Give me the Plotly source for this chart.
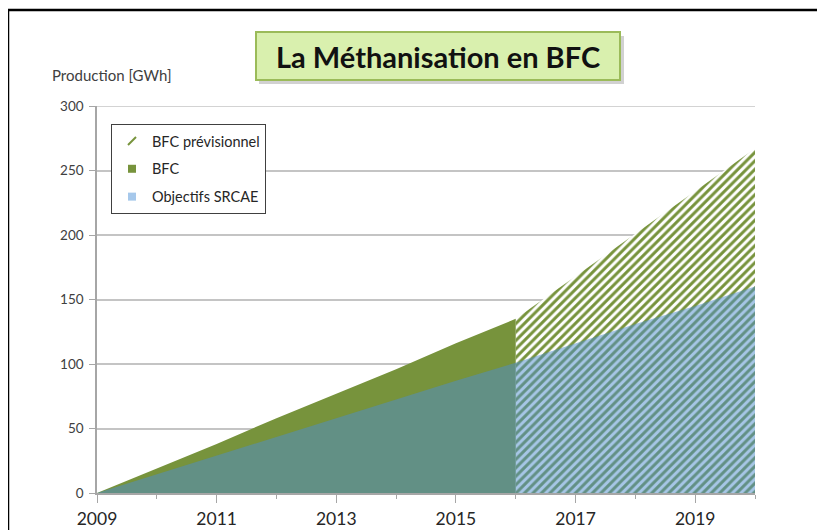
import plotly.graph_objects as go

# données (GWh)
annees_bfc = [2009, 2010, 2011, 2012, 2013, 2014, 2015, 2016]
bfc = [0, 19, 38, 58, 77, 96, 116, 135]

annees_prev = [2016, 2017, 2018, 2019, 2020]
bfc_prev = [135, 168, 201, 234, 267]

annees_srcae = [2009, 2010, 2011, 2012, 2013, 2014, 2015, 2016, 2017, 2018, 2019, 2020]
srcae = [0, 14.5, 29, 44, 58, 73, 87, 101, 116, 131, 145, 160]

vert = '#77933C'
bleu = 'rgba(77,141,205,0.5)'
police = 'Lato, Open Sans, sans-serif'

# la page html décale tout de 8 px (marge du body)
D = 8
W, H = 825 - D, 530 - D
# zone de tracé en pixels (coordonnées de l'image de référence)
L, R, T, B = 97, 755, 106, 493


def px(x):
    return (x - L) / (R - L)


def py(y):
    return (B - y) / (B - T)


fig = go.Figure()

fig.add_trace(go.Scatter(
    x=annees_prev, y=bfc_prev, name='BFC prévisionnel',
    mode='lines', line=dict(width=0, color=vert),
    fill='tozeroy', fillcolor='white',
    fillpattern=dict(shape='/', size=6, solidity=0.5, fgopacity=1,
                     fgcolor=vert, bgcolor='white'),
    showlegend=False
))

fig.add_trace(go.Scatter(
    x=annees_bfc, y=bfc, name='BFC',
    mode='lines', line=dict(width=0, color=vert),
    fill='tozeroy', fillcolor=vert,
    showlegend=False
))

fig.add_trace(go.Scatter(
    x=annees_srcae, y=srcae, name='Objectifs SRCAE',
    mode='lines', line=dict(width=0, color=bleu),
    fill='tozeroy', fillcolor=bleu,
    showlegend=False
))

# entrées de légende (petits carrés comme dans Excel)
legende = [
    ('BFC prévisionnel', 'line-ne', vert),
    ('BFC', 'square', vert),
    ('Objectifs SRCAE', 'square', '#A6C8EB'),
]
for i, (nom, symbole, couleur) in enumerate(legende):
    fig.add_trace(go.Scatter(
        x=[None], y=[None], name=nom, mode='markers',
        marker=dict(symbol=symbole, size=8, color=couleur,
                    line=dict(color=couleur, width=2 if symbole == 'line-ne' else 0)),
        legendgroup=str(i), showlegend=True
    ))

fig.update_xaxes(
    range=[2009, 2020], tick0=2009, dtick=2,
    showgrid=False, showline=True, linecolor='#A6A6A6', linewidth=1.5,
    ticks='outside', ticklen=8, tickcolor='#A6A6A6',
    minor=dict(dtick=1, ticks='outside', ticklen=4, tickcolor='#A6A6A6'),
    tickfont=dict(family=police, size=17.5, color='#262626'),
    ticklabelstandoff=1,
    zeroline=False, automargin=False
)

fig.update_yaxes(
    range=[0, 300], tickvals=[0, 50, 100, 150, 200, 250, 300],
    showgrid=True, gridcolor='#C4C4C4', gridwidth=1.5,
    showline=True, linecolor='#A6A6A6', linewidth=1.5,
    ticks='outside', ticklen=6, tickcolor='#A6A6A6',
    tickfont=dict(family=police, size=13.5, color='#404040'),
    ticklabelstandoff=3,
    zeroline=False, automargin=False
)

fig.update_layout(
    width=W, height=H,
    margin=dict(l=L - D, r=825 - R, t=T - D, b=530 - B),
    paper_bgcolor='white', plot_bgcolor='white',
    showlegend=True,
    legend=dict(
        x=px(111), y=py(124), xanchor='left', yanchor='top',
        bordercolor='#404040', borderwidth=1, bgcolor='white',
        font=dict(family=police, size=14.5, color='#262626'),
        tracegroupgap=6, itemwidth=30
    ),
    shapes=[
        # ligne de grille du haut (300), masquée par plotly au bord
        dict(type='line', xref='paper', yref='y', x0=0, x1=1, y0=300, y1=300,
             line=dict(color='#C4C4C4', width=1.5), layer='below'),
        # cadre noir
        dict(type='line', xref='paper', yref='paper',
             x0=px(8), x1=px(840), y0=py(10), y1=py(10),
             line=dict(color='black', width=2.5)),
        dict(type='line', xref='paper', yref='paper',
             x0=px(8), x1=px(8), y0=py(10), y1=py(560),
             line=dict(color='black', width=2.5)),
        # ombre et boîte du titre
        dict(type='rect', xref='paper', yref='paper',
             x0=px(259), x1=px(624), y0=py(36), y1=py(84),
             fillcolor='rgba(0,0,0,0.18)', line=dict(width=0)),
        dict(type='rect', xref='paper', yref='paper',
             x0=px(256), x1=px(620), y0=py(32), y1=py(80),
             fillcolor='#D9F0AE', line=dict(color='#9BBB59', width=2)),
    ],
    annotations=[
        dict(text='<b>La Méthanisation en BFC</b>', xref='paper', yref='paper',
             x=px(438), y=py(56), xanchor='center', yanchor='middle',
             showarrow=False, font=dict(family=police, size=29, color='#111111')),
        dict(text='Production [GWh]', xref='paper', yref='paper',
             x=px(50), y=py(75), xanchor='left', yanchor='middle',
             showarrow=False, font=dict(family=police, size=15, color='#404040')),
    ]
)

fig.write_html('out.html')
